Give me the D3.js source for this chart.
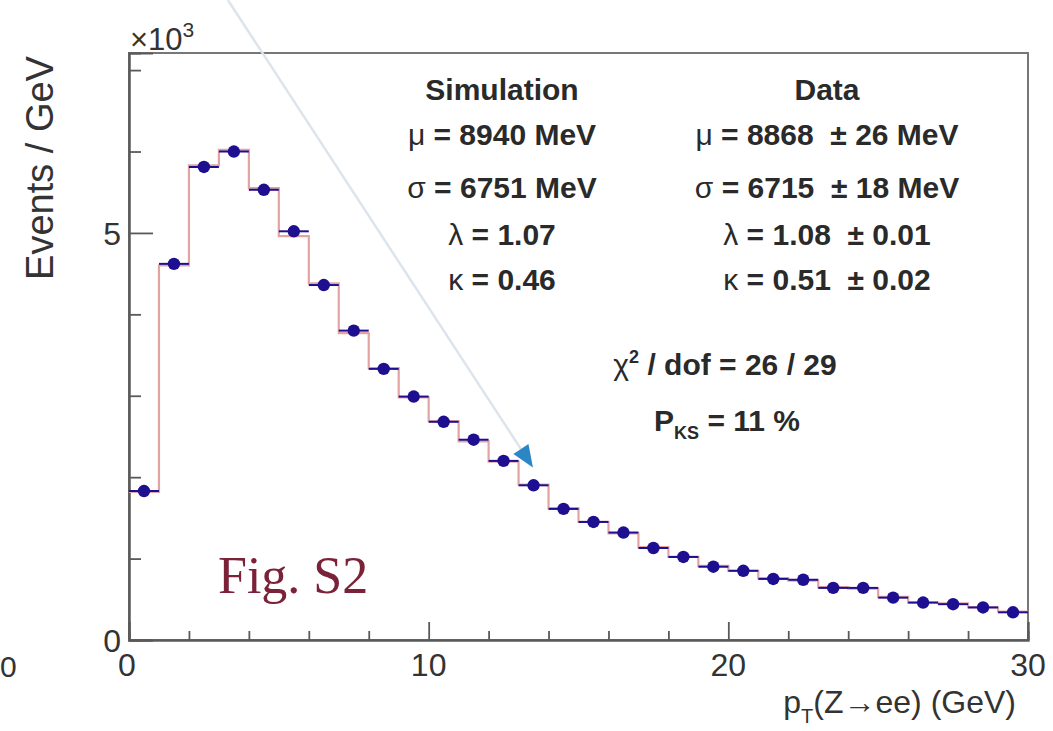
<!DOCTYPE html>
<html>
<head>
<meta charset="utf-8">
<script src="https://cdn.jsdelivr.net/npm/d3@7"></script>
<style>
html,body{margin:0;padding:0;background:#fff;}
svg{display:block;}
</style>
</head>
<body>
<svg id="chart" width="1053" height="731"></svg>
<script>
// ---------- data (values in units of 10^3 events / GeV) ----------
const binLowEdges = [0,1,2,3,4,5,6,7,8,9,10,11,12,13,14,15,16,17,18,19,20,21,22,23,24,25,26,27,28,29];
const binWidth = 1;
const dataValues = [1.83,4.62,5.81,6.00,5.53,5.02,4.36,3.80,3.33,2.99,
                    2.68,2.46,2.20,1.90,1.61,1.45,1.32,1.13,1.02,0.90,
                    0.85,0.75,0.74,0.64,0.64,0.52,0.46,0.44,0.40,0.34];
const simValues  = [1.82,4.60,5.83,6.02,5.55,4.96,4.38,3.77,3.34,2.98,
                    2.69,2.44,2.19,1.91,1.62,1.45,1.31,1.14,1.02,0.91,
                    0.85,0.76,0.73,0.65,0.63,0.53,0.46,0.45,0.40,0.35];
const xDomain = [0, 30];
const yDomain = [0, 7.21];
const xMajorTicks = [0, 10, 20, 30];
const xMinorTicks = [2,4,6,8,12,14,16,18,22,24,26,28];
const yMajorTicks = [0, 5];
const yMinorTicks = [1,2,3,4,6,7];

const simLines  = [["", "Simulation"], ["\u03bc", " = 8940 MeV"], ["\u03c3", " = 6751 MeV"], ["\u03bb", " = 1.07"], ["\u03ba", " = 0.46"]];
const dataLines = [["", "Data"], ["\u03bc", " = 8868  \u00b1 26 MeV"], ["\u03c3", " = 6715  \u00b1 18 MeV"], ["\u03bb", " = 1.08  \u00b1 0.01"], ["\u03ba", " = 0.51  \u00b1 0.02"]];
const chi2Text = {sym: "\u03c7", sup: "2", rest: " / dof = 26 / 29"};
const pksText = {main: "P", sub: "KS", rest: " = 11 %"};
// annotation arrow (in data coordinates)
const arrowStart = [3.30, 7.86];
const arrowTip = [13.48, 2.12];

// ---------- drawing ----------
const svg = d3.select("#chart");
const x = d3.scaleLinear().domain(xDomain).range([129, 1028]);
const y = d3.scaleLinear().domain(yDomain).range([640, 53]);
const sans = "'Liberation Sans', Arial, Helvetica, sans-serif";
const axisColor = "#5a5a5a";
const textColor = "#333";

svg.append("rect").attr("width", 1053).attr("height", 731).attr("fill", "#fff");

// frame
svg.append("rect")
  .attr("x", x(0)).attr("y", y(yDomain[1]))
  .attr("width", x(30) - x(0)).attr("height", y(0) - y(yDomain[1]))
  .attr("fill", "none").attr("stroke", "#777").attr("stroke-width", 2);

// x axis (ticks inside)
const xAxisMajor = d3.axisBottom(x).tickValues(xMajorTicks).tickSize(-18).tickFormat("");
const xAxisMinor = d3.axisBottom(x).tickValues(xMinorTicks).tickSize(-9).tickFormat("");
[xAxisMajor, xAxisMinor].forEach(a => {
  const g = svg.append("g").attr("transform", `translate(0,${y(0)})`).call(a);
  g.select(".domain").attr("stroke", axisColor).attr("stroke-width", 2);
  g.selectAll(".tick line").attr("stroke", axisColor).attr("stroke-width", 1.8);
});
// y axis (ticks inside)
const yAxisMajor = d3.axisLeft(y).tickValues(yMajorTicks).tickSize(-24).tickFormat("");
const yAxisMinor = d3.axisLeft(y).tickValues(yMinorTicks).tickSize(-12).tickFormat("");
[yAxisMajor, yAxisMinor].forEach(a => {
  const g = svg.append("g").attr("transform", `translate(${x(0)},0)`).call(a);
  g.select(".domain").attr("stroke", axisColor).attr("stroke-width", 2);
  g.selectAll(".tick line").attr("stroke", axisColor).attr("stroke-width", 1.8);
});

// tick labels
svg.append("g").selectAll("text").data(xMajorTicks).join("text")
  .attr("x", d => x(d) - (d === 0 ? 2 : 0)).attr("y", y(0) + 36)
  .attr("text-anchor", "middle").attr("font-family", sans).attr("font-size", 32)
  .attr("fill", textColor).text(d => d);
svg.append("g").selectAll("text").data(yMajorTicks).join("text")
  .attr("x", x(0) - 8).attr("y", d => y(d) + 12)
  .attr("text-anchor", "end").attr("font-family", sans).attr("font-size", 32)
  .attr("fill", textColor).text(d => d);
// label from neighbouring panel at the far left
svg.append("text").attr("x", 0).attr("y", y(0) + 37).attr("text-anchor", "start")
  .attr("font-family", sans).attr("font-size", 30).attr("fill", textColor).text("0");

// x10^3
const expo = svg.append("text").attr("x", x(0) + 1).attr("y", y(yDomain[1]) - 3)
  .attr("font-family", sans).attr("font-size", 31).attr("fill", textColor);
expo.append("tspan").text("\u00d710");
expo.append("tspan").attr("font-size", 21).attr("dy", -13).text("3");

// axis titles
svg.append("text").attr("transform", `translate(53,168) rotate(-90)`)
  .attr("text-anchor", "middle").attr("font-family", sans).attr("font-size", 38)
  .attr("fill", textColor).text("Events / GeV");
const xt = svg.append("text").attr("x", 1016).attr("y", 713).attr("text-anchor", "end")
  .attr("font-family", sans).attr("font-size", 32).attr("fill", textColor);
xt.append("tspan").text("p");
xt.append("tspan").attr("font-size", 20).attr("dy", 10).text("T");
xt.append("tspan").attr("dy", -10).text("(Z\u2192ee) (GeV)");

// annotation arrow line
const baseLen = 22;
const p0 = [x(arrowStart[0]), y(arrowStart[1])];
const p1 = [x(arrowTip[0]), y(arrowTip[1])];
const dx = p1[0] - p0[0], dy = p1[1] - p0[1];
const L = Math.hypot(dx, dy), ux = dx / L, uy = dy / L;
const bx = p1[0] - ux * baseLen, by = p1[1] - uy * baseLen;
svg.append("line").attr("x1", p0[0]).attr("y1", p0[1]).attr("x2", bx).attr("y2", by)
  .attr("stroke", "#dde4ec").attr("stroke-width", 2.5);

// simulation histogram (step)
const stepPts = binLowEdges.map((e, i) => [e, simValues[i]]);
stepPts.push([binLowEdges[binLowEdges.length - 1] + binWidth, simValues[simValues.length - 1]]);
svg.append("path")
  .attr("d", d3.line().x(d => x(d[0])).y(d => y(d[1])).curve(d3.curveStepAfter)(stepPts))
  .attr("fill", "none").attr("stroke", "#e4a3a3").attr("stroke-width", 2.2);

// data points with horizontal error bars
const markerColor = "#1e0e90";
const pts = binLowEdges.map((e, i) => ({lo: e, hi: e + binWidth, c: e + binWidth / 2, v: dataValues[i]}));
svg.append("g").selectAll("line").data(pts).join("line")
  .attr("x1", d => x(d.lo)).attr("x2", d => x(d.hi))
  .attr("y1", d => y(d.v)).attr("y2", d => y(d.v))
  .attr("stroke", markerColor).attr("stroke-width", 2);
svg.append("g").selectAll("circle").data(pts).join("circle")
  .attr("cx", d => x(d.c)).attr("cy", d => y(d.v)).attr("r", 6.2)
  .attr("fill", markerColor);

// arrow head
svg.append("path")
  .attr("d", `M${p1[0]},${p1[1]} L${bx - uy * 9},${by + ux * 9} L${bx + uy * 9},${by - ux * 9} Z`)
  .attr("fill", "#2b86c4");

// text block
function block(lines, cx) {
  const baselines = [100, 145, 198, 245, 290];
  lines.forEach((ln, i) => {
    const t = svg.append("text").attr("x", cx).attr("y", baselines[i])
      .attr("text-anchor", "middle").attr("font-family", sans).attr("font-size", 30)
      .attr("font-weight", "bold").attr("fill", "#2a2a2a").style("white-space", "pre");
    if (ln[0]) t.append("tspan").attr("font-weight", "normal").text(ln[0]);
    t.append("tspan").text(ln[1]);
  });
}
block(simLines, 502);
block(dataLines, 827);

const chi = svg.append("text").attr("x", 725).attr("y", 375).attr("text-anchor", "middle")
  .attr("font-family", sans).attr("font-size", 30).attr("font-weight", "bold")
  .attr("fill", "#2a2a2a").style("white-space", "pre");
chi.append("tspan").attr("font-weight", "normal").text(chi2Text.sym);
chi.append("tspan").attr("font-size", 18).attr("dy", -12).text(chi2Text.sup);
chi.append("tspan").attr("dy", 12).text(chi2Text.rest);

const pks = svg.append("text").attr("x", 727).attr("y", 431).attr("text-anchor", "middle")
  .attr("font-family", sans).attr("font-size", 30).attr("font-weight", "bold")
  .attr("fill", "#2a2a2a").style("white-space", "pre");
pks.append("tspan").text(pksText.main);
pks.append("tspan").attr("font-size", 18).attr("dy", 8).text(pksText.sub);
pks.append("tspan").attr("dy", -8).text(pksText.rest);

// Fig. S2 label
svg.append("text").attr("x", 218).attr("y", 593)
  .attr("font-family", "'Liberation Serif', 'Times New Roman', serif").attr("font-size", 52)
  .attr("fill", "#7b2238").text("Fig. S2");
</script>
</body>
</html>
